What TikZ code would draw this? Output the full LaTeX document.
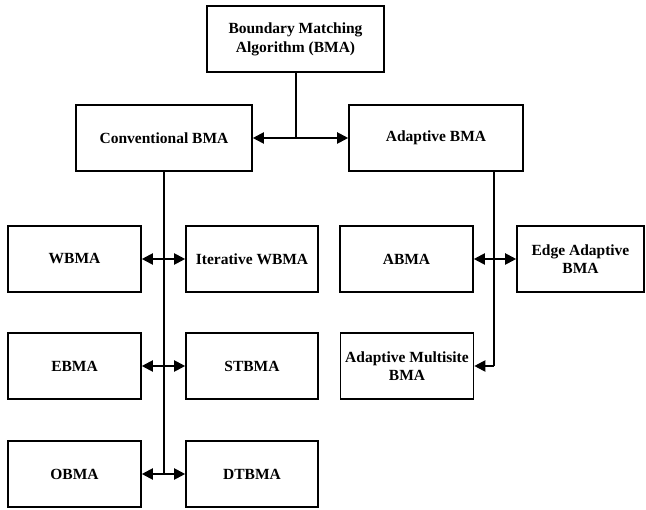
\documentclass[tikz,border=0pt]{standalone}
\usepackage{fontspec}
\setmainfont{Liberation Serif}
\usetikzlibrary{positioning,arrows.meta}

\begin{document}
\begin{tikzpicture}[x=1pt,y=-1pt,
    box/.style={draw, line width=1.6pt, minimum width=133pt, minimum height=66pt, inner sep=0pt, align=center, font=\fontsize{15.5}{18.7}\selectfont\bfseries},
    link/.style={line width=2pt},
    arr/.style={link, -{Triangle[length=11pt,width=11pt]}}]
  \useasboundingbox (0,0) rectangle (646,510);

  % Top level
  \node[box, minimum width=177pt] (bma) at (295.5,39) {Boundary Matching\\Algorithm (BMA)};
  \node[box, minimum width=176pt] (conv) at (164,138) {Conventional BMA};
  \node[box, minimum width=174pt] (adapt) at (436,138) {Adaptive BMA};

  % Conventional branch
  \node[box] (wbma) at (74.5,259) {WBMA};
  \node[box, minimum width=132pt] (iwbma) at (252,259) {Iterative WBMA};
  \node[box] (ebma) at (74.5,366) {EBMA};
  \node[box, minimum width=132pt] (stbma) at (252,366) {STBMA};
  \node[box] (obma) at (74.5,474) {OBMA};
  \node[box, minimum width=132pt] (dtbma) at (252,474) {DTBMA};

  % Adaptive branch
  \node[box] (abma) at (406.5,259) {ABMA};
  \node[box, minimum width=127pt] (eabma) at (580.5,259) {Edge Adaptive\\BMA};
  \node[box] (ambma) at (407,366) {Adaptive Multisite\\BMA};

  % Connectors
  \coordinate (top) at (bma.south |- conv.east);
  \draw[link] (bma.south) -- (top);
  \draw[arr] (top) -- (conv.east);
  \draw[arr] (top) -- (adapt.west);

  \coordinate (cend) at (conv.south |- obma.east);
  \draw[link] (conv.south) -- (cend);
  \foreach \l/\r in {wbma/iwbma, ebma/stbma, obma/dtbma} {
    \draw[arr] (conv.south |- \l.east) -- (\l.east);
    \draw[arr] (conv.south |- \r.west) -- (\r.west);
  }

  \coordinate (astart) at (494,171);
  \coordinate (aend) at (astart |- ambma.east);
  \draw[link] (astart) -- (aend);
  \draw[arr] (astart |- abma.east) -- (abma.east);
  \draw[arr] (astart |- eabma.west) -- (eabma.west);
  \draw[arr] (aend) -- (ambma.east);
\end{tikzpicture}
\end{document}
